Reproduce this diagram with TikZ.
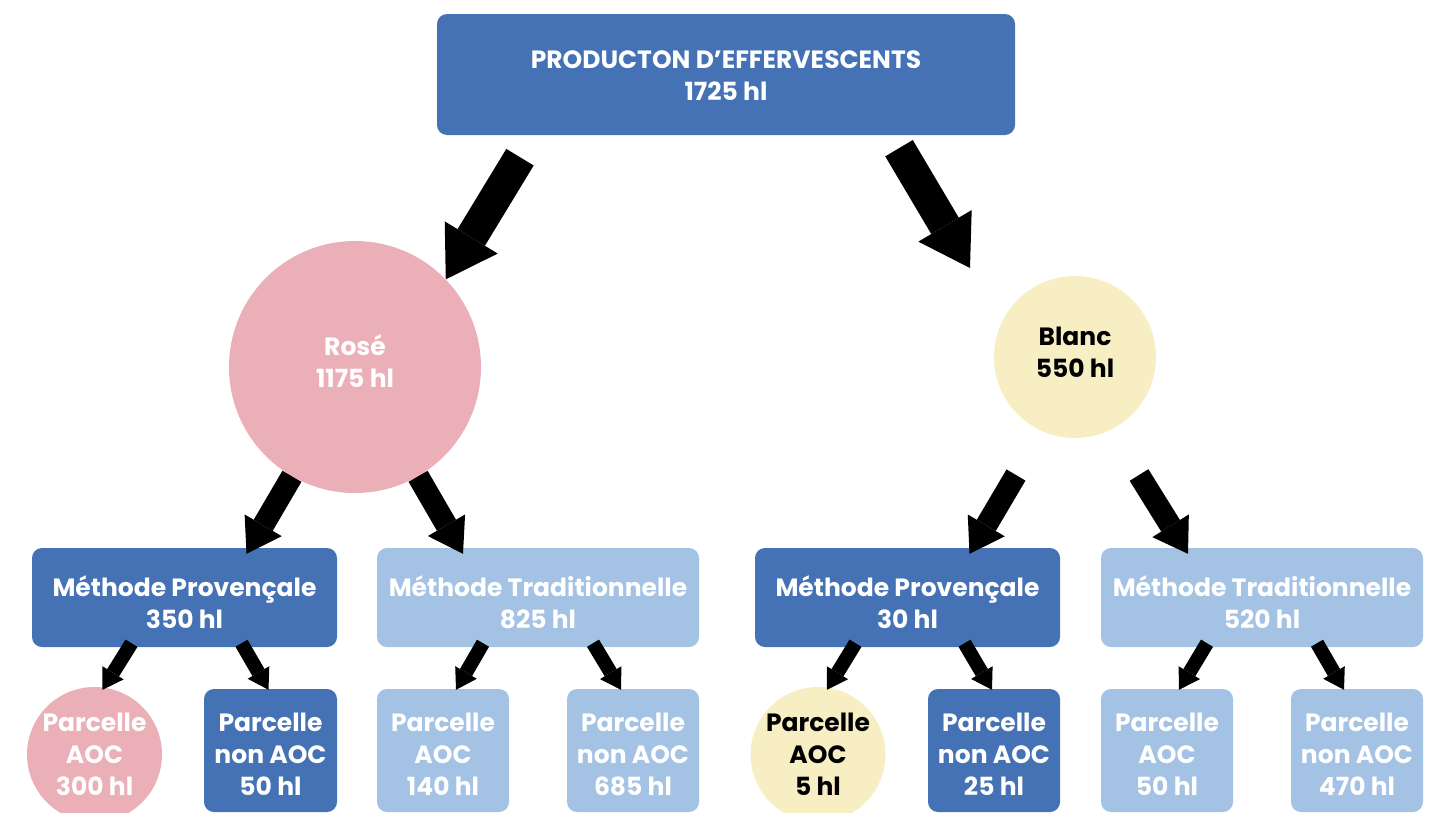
\documentclass[tikz,border=0pt]{standalone}
\usepackage{fontspec}
\setmainfont{Poppins}
\usepackage{tikz}
\usetikzlibrary{arrows.meta}
\definecolor{darkblue}{RGB}{68,114,180}
\definecolor{lightblue}{RGB}{164,194,228}
\definecolor{rosepink}{RGB}{234,175,183}
\definecolor{blancyellow}{RGB}{248,238,196}
\tikzset{
  lbl/.style = {align = center, inner sep = 0pt, text depth = 0pt, font = \bfseries\fontsize{25}{32}\selectfont},
  box/.style = {lbl, rectangle, rounded corners = 10pt, text = white},
  dark/.style = {box, fill = darkblue},
  light/.style = {box, fill = lightblue},
  disk/.style = {lbl, circle},
  arrB/.style = {line width = 32pt, -{Triangle[width = 62pt, length = 49pt, line width = 0pt]}},
  arrM/.style = {line width = 22pt, -{Triangle[width = 43pt, length = 33pt, line width = 0pt]}},
  arrS/.style = {line width = 14pt, -{Triangle[width = 25pt, length = 20pt, line width = 0pt]}}
}

\begin{document}
\begin{tikzpicture}[x = 1pt, y = -1pt]
\useasboundingbox (0, 0) rectangle (1430, 812);
\clip (0, 0) rectangle (1430, 812);

\node[dark, minimum width = 578pt, minimum height = 121pt, text height = 51pt] (prod) at (726, 74.5) {PRODUCTON D’EFFERVESCENTS\\1725 hl};

\node[disk, fill = rosepink, text = white, minimum size = 252pt, text height = 40pt] (rose) at (355, 367) {Rosé\\1175 hl};
\node[disk, fill = blancyellow, text = black, minimum size = 162pt, text height = 40pt] (blanc) at (1075, 357) {Blanc\\550 hl};

\node[dark, minimum width = 305pt, minimum height = 99pt, text height = 61pt] (provR) at (184.5, 597.5) {Méthode Provençale\\350 hl};
\node[light, minimum width = 322pt, minimum height = 99pt, text height = 61pt] (tradR) at (538, 597.5) {Méthode Traditionnelle\\825 hl};
\node[dark, minimum width = 305pt, minimum height = 99pt, text height = 61pt] (provB) at (907.5, 597.5) {Méthode Provençale\\30 hl};
\node[light, minimum width = 322pt, minimum height = 99pt, text height = 61pt] (tradB) at (1262, 597.5) {Méthode Traditionnelle\\520 hl};

\node[disk, fill = rosepink, text = white, minimum size = 135pt, text height = 81pt] (aocPR) at (94.5, 754.5) {Parcelle\\AOC\\300 hl};
\node[dark, minimum width = 133pt, minimum height = 123pt, text height = 89pt] (nonPR) at (270.5, 750.5) {Parcelle\\non AOC\\50 hl};
\node[light, minimum width = 132pt, minimum height = 123pt, text height = 89pt] (aocTR) at (443, 750.5) {Parcelle\\AOC\\140 hl};
\node[light, minimum width = 132pt, minimum height = 123pt, text height = 89pt] (nonTR) at (633, 750.5) {Parcelle\\non AOC\\685 hl};
\node[disk, fill = blancyellow, text = black, minimum size = 135pt, text height = 81pt] (aocPB) at (818, 754.5) {Parcelle\\AOC\\5 hl};
\node[dark, minimum width = 132pt, minimum height = 123pt, text height = 89pt] (nonPB) at (994, 750.5) {Parcelle\\non AOC\\25 hl};
\node[light, minimum width = 132pt, minimum height = 123pt, text height = 89pt] (aocTB) at (1167, 750.5) {Parcelle\\AOC\\50 hl};
\node[light, minimum width = 132pt, minimum height = 123pt, text height = 89pt] (nonTB) at (1357, 750.5) {Parcelle\\non AOC\\470 hl};

\draw[arrB] ([shift = {(-206, 22)}]prod.south) -- (rose.44);
\draw[arrB] ([shift = {(173, 13)}]prod.south) -- ([shift = {(-105, -89)}]blanc.center);

\draw[arrM] (rose.240) -- ([shift = {(62, 6)}]provR.north);
\draw[arrM] (rose.300) -- ([shift = {(-75, 6)}]tradR.north);
\draw[arrM] ([shift = {(-59, 118)}]blanc.center) -- ([shift = {(62, 6)}]provB.north);
\draw[arrM] ([shift = {(64, 118)}]blanc.center) -- ([shift = {(-74, 6)}]tradB.north);

\draw[arrS] ([shift = {(-53, -4)}]provR.south) -- ([shift = {(8, 3)}]aocPR.north);
\draw[arrS] ([shift = {(57, -4)}]provR.south) -- ([shift = {(-2, 1)}]nonPR.north);
\draw[arrS] ([shift = {(-55, -4)}]tradR.south) -- ([shift = {(13, 1)}]aocTR.north);
\draw[arrS] ([shift = {(55, -4)}]tradR.south) -- ([shift = {(-12, 1)}]nonTR.north);
\draw[arrS] ([shift = {(-52, -4)}]provB.south) -- ([shift = {(9, 3)}]aocPB.north);
\draw[arrS] ([shift = {(57, -4)}]provB.south) -- ([shift = {(-2, 1)}]nonPB.north);
\draw[arrS] ([shift = {(-55, -4)}]tradB.south) -- ([shift = {(12, 1)}]aocTB.north);
\draw[arrS] ([shift = {(55, -4)}]tradB.south) -- ([shift = {(-13, 1)}]nonTB.north);
\end{tikzpicture}
\end{document}
